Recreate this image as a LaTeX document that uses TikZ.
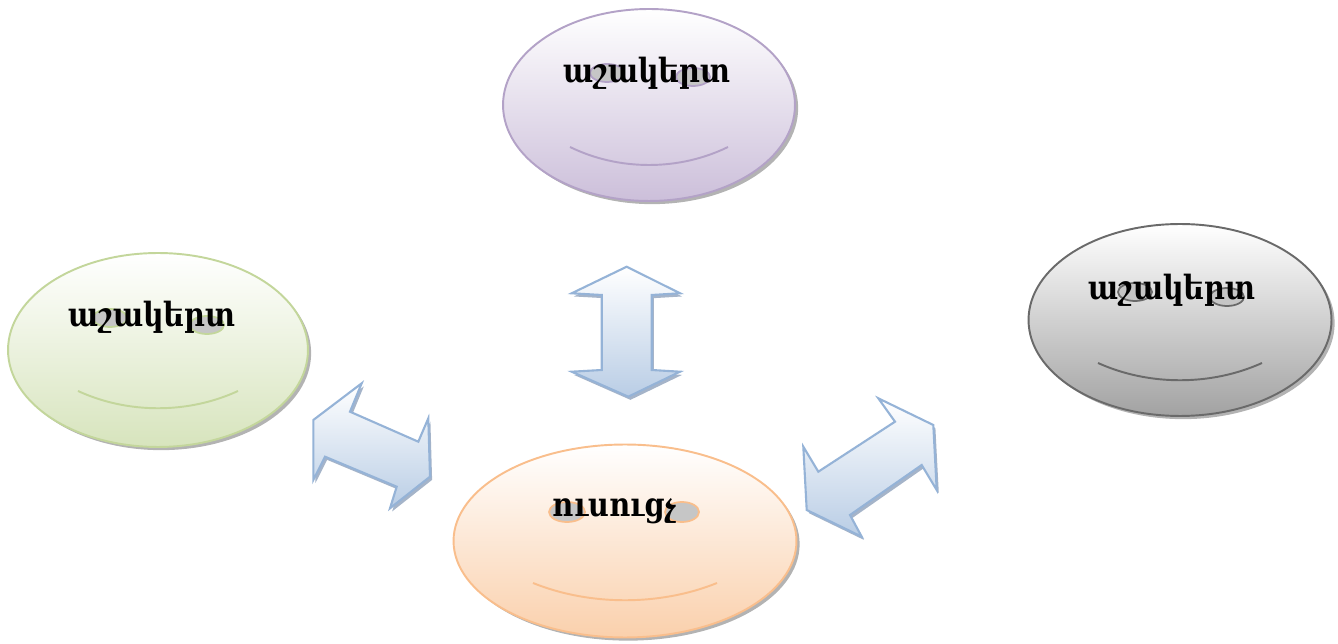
\documentclass[tikz,border=0pt]{standalone}
\usepackage{fontspec}
\setmainfont{DejaVu Serif}
\newfontfamily\armfont[FakeStretch=0.86]{DejaVu Serif}
\usetikzlibrary{shapes.geometric,shadows}
\definecolor{lilaline}{HTML}{B3A2C7}
\definecolor{lilafill}{HTML}{CCBFDA}
\definecolor{greenline}{HTML}{C3D69B}
\definecolor{greenfill}{HTML}{D7E4BD}
\definecolor{greyline}{HTML}{6A6A6A}
\definecolor{greyfill}{HTML}{A2A2A2}
\definecolor{orangeline}{HTML}{F9BE8C}
\definecolor{orangefill}{HTML}{FAD0AC}
\definecolor{eyegrey}{HTML}{C6C6C6}
\definecolor{arrowline}{HTML}{95B3D7}
\definecolor{arrowfill}{HTML}{B9CDE5}
\definecolor{arrowshade}{HTML}{7F94B2}
\tikzset{
  face/.style={ellipse, draw=#1line, line width=1.1pt, inner sep=0pt,
    top color=white, bottom color=#1fill,
    drop shadow={shadow xshift=1.8pt, shadow yshift=-1.8pt, opacity=0.6}},
  eye/.style={draw=#1line, fill=eyegrey, line width=1pt},
  smile/.style={draw=#1line, line width=1.1pt},
  facetext/.style={font=\armfont\fontsize{19}{22}\selectfont\bfseries, inner sep=0pt},
  blockarrow/.style={draw=arrowline, line width=1.2pt, line join=miter,
    top color=white, bottom color=arrowfill,
    drop shadow={shadow xshift=1.2pt, shadow yshift=-1.8pt, opacity=0.7, fill=arrowshade}}
}
\begin{document}
\begin{tikzpicture}[x=0.02cm, y=-0.02cm]
  \useasboundingbox (0,0) rectangle (1338,644);
  % faces
  \node[face=lila, minimum width=5.84cm, minimum height=3.84cm] (top) at (649,105) {};
  \node[face=green, minimum width=6.0cm, minimum height=3.88cm] (left) at (158,350) {};
  \node[face=grey, minimum width=6.06cm, minimum height=3.84cm] (right) at (1180,320) {};
  \node[face=orange, minimum width=6.86cm, minimum height=3.86cm] (bottom) at (625,541) {};
  % eyes
  \draw[eye=lila] ([shift={(-42,-32)}]top.center) ellipse (17 and 9);
  \draw[eye=lila] ([shift={(44,-28)}]top.center) ellipse (17 and 9);
  \draw[eye=green] ([shift={(-48,-32)}]left.center) ellipse (17 and 9);
  \draw[eye=green] ([shift={(49,-25)}]left.center) ellipse (17 and 9);
  \draw[eye=grey] ([shift={(-45,-28)}]right.center) ellipse (17 and 9);
  \draw[eye=grey] ([shift={(47,-23)}]right.center) ellipse (17 and 9);
  \draw[eye=orange] ([shift={(-58,-29)}]bottom.center) ellipse (18 and 10);
  \draw[eye=orange] ([shift={(57,-29)}]bottom.center) ellipse (17 and 10);
  % smiles
  \draw[smile=lila] ([shift={(-79,42)}]top.center) .. controls ([shift={(-30,66)}]top.center) and ([shift={(30,66)}]top.center) .. ([shift={(79,42)}]top.center);
  \draw[smile=green] ([shift={(-80,41)}]left.center) .. controls ([shift={(-30,64)}]left.center) and ([shift={(30,64)}]left.center) .. ([shift={(80,41)}]left.center);
  \draw[smile=grey] ([shift={(-82,43)}]right.center) .. controls ([shift={(-31,66)}]right.center) and ([shift={(31,66)}]right.center) .. ([shift={(82,43)}]right.center);
  \draw[smile=orange] ([shift={(-92,42)}]bottom.center) .. controls ([shift={(-35,65)}]bottom.center) and ([shift={(35,65)}]bottom.center) .. ([shift={(92,42)}]bottom.center);
  % texts
  \node[facetext] (toptext) at ([shift={(-2,-32)}]top.center) {աշակերտ};
  \node[facetext] (lefttext) at ([shift={(-6,-33)}]left.center) {աշակերտ};
  \node[facetext] (righttext) at ([shift={(-8,-30)}]right.center) {աշակերտ};
  \node[facetext] (bottomtext) at ([shift={(-10,-30)}]bottom.center) {ուսուցչ};
  % arrows
  \draw[blockarrow] (626.7,266.7) -- (680,293.3) -- (651.7,295) -- (651.7,370) -- (680,371.7)
    -- (628.3,396.7) -- (571.7,371.7) -- (601.7,370) -- (601.7,295) -- (571.7,293.3) -- cycle;
  \draw[blockarrow] (361.7,383.3) -- (350,411.7) -- (418.3,441.7) -- (428.3,418.3) -- (430,476.7)
    -- (390,508.3) -- (396.7,486.7) -- (325,456.7) -- (313.3,480) -- (313.3,420) -- cycle;
  \draw[blockarrow] (878.3,398.3) -- (933.3,425) -- (936.7,490) -- (921.7,465) -- (850,515)
    -- (861.7,536.7) -- (806.7,510) -- (803.3,446.7) -- (818.3,471.7) -- (895,421.7) -- cycle;
\end{tikzpicture}
\end{document}
